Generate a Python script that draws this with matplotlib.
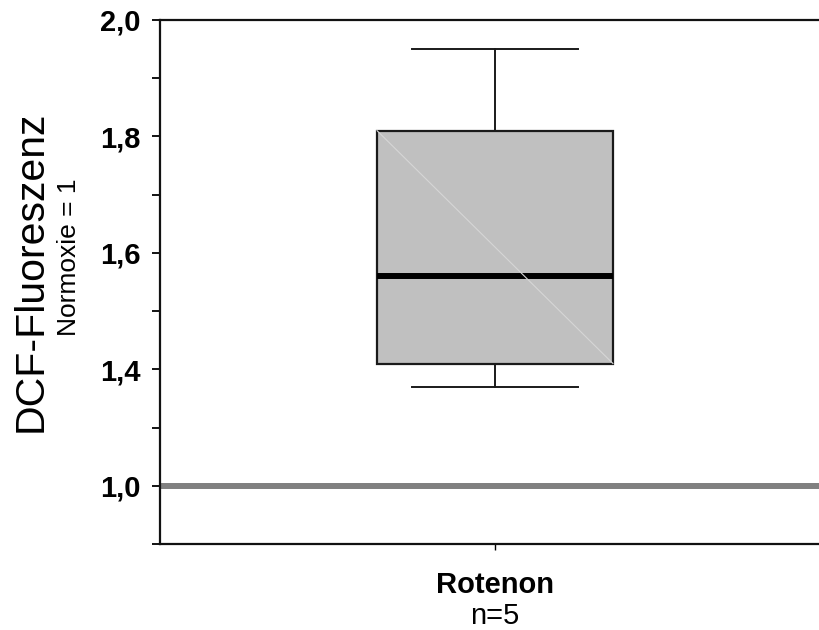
import matplotlib
matplotlib.use("Agg")
import matplotlib.pyplot as plt
import matplotlib.transforms as mtransforms

plt.rcParams['font.family'] = ['Liberation Sans', 'DejaVu Sans']

# ---- data ----
category = "Rotenon"
n_label = "n=5"
box_min = 1.37
box_q1 = 1.41
box_median = 1.56
box_q3 = 1.81
box_max = 1.95
reference_value = 1.0
ytick_values = [1.0, 1.4, 1.6, 1.8, 2.0]
ytick_labels = ["1,0", "1,4", "1,6", "1,8", "2,0"]

# broken axis: values below the break are shifted up by 0.2
BREAK = 1.25
SHIFT = 0.2
def to_axis(v):
    return v + SHIFT if v < BREAK else v

fig = plt.figure(figsize=(8.19, 6.30), dpi=100)
W, H = 819, 630
ax = fig.add_axes([160 / W, (H - 544) / H, (W - 160) / W, (544 - 20) / H])

stats = [dict(med=box_median, q1=box_q1, q3=box_q3,
              whislo=box_min, whishi=box_max, fliers=[], label=category)]
ax.bxp(stats, positions=[1], widths=0.358, capwidths=0.252, patch_artist=True,
       showfliers=False,
       boxprops=dict(facecolor="#c0c0c0", edgecolor="#1a1a1a", linewidth=1.6),
       medianprops=dict(color="black", linewidth=4.3, solid_capstyle="butt"),
       whiskerprops=dict(color="#1a1a1a", linewidth=1.4),
       capprops=dict(color="#1a1a1a", linewidth=1.4))

# faint diagonal artifact inside the box
ax.plot([1 - 0.179, 1 + 0.179], [box_q3, box_q1], color="#d6d6d6", linewidth=0.8, zorder=3)

# reference line at Normoxie = 1
ax.axhline(to_axis(reference_value), color="#808080", linewidth=4.3, zorder=1)

ax.set_xlim(0.4917, 1.4917)
ax.set_ylim(1.1, 2.0)

ax.set_yticks([to_axis(v) for v in ytick_values])
ax.set_yticklabels(ytick_labels, fontsize=21, fontweight="bold")
ax.set_yticks([1.1, 1.3, 1.5, 1.7, 1.9], minor=True)
ax.tick_params(axis="y", which="both", direction="out", length=6, width=1.3, pad=8)

ax.set_xticks([1])
ax.set_xticklabels([""])
ax.tick_params(axis="x", direction="out", length=4, width=1.0)

trans = mtransforms.blended_transform_factory(ax.transData, ax.transAxes)
ax.text(1, -0.078, category, transform=trans, ha="center", va="center",
        fontsize=21, fontweight="bold")
ax.text(1, -0.137, n_label, transform=trans, ha="center", va="center", fontsize=21)

for s in ["left", "top", "bottom"]:
    ax.spines[s].set_linewidth(1.6)
    ax.spines[s].set_color("#111111")
ax.spines["right"].set_visible(False)

fig.text(31 / W, 1 - 271 / H, "DCF-Fluoreszenz", rotation=90, ha="center", va="center", fontsize=29.5)
fig.text(69 / W, 1 - 257 / H, "Normoxie = 1", rotation=90, ha="center", va="center", fontsize=19)

fig.savefig("out.png", dpi=100)
